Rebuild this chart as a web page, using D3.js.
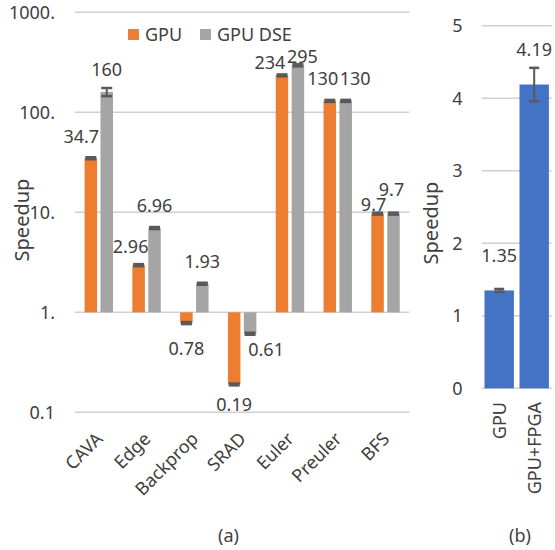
<!DOCTYPE html>
<html>
<head>
<meta charset="utf-8">
<script src="https://cdn.jsdelivr.net/npm/d3@7"></script>
<style>
  body { margin: 0; background: #fff; }
  text { font-family: "Noto Sans", "Open Sans", sans-serif; fill: #404040; }
</style>
</head>
<body>
<svg id="chart" width="555" height="550"></svg>
<script>
"use strict";

// Panel (a): speedup per benchmark (log scale)
const categories = ["CAVA", "Edge", "Backprop", "SRAD", "Euler", "Preuler", "BFS"];
const seriesNames = ["GPU", "GPU DSE"];
const gpuValues = [34.7, 2.96, 0.78, 0.19, 234, 130, 9.7];
const gpuDseValues = [160, 6.96, 1.93, 0.61, 295, 130, 9.7];
const gpuErrors = [0.8, 0.07, 0.018, 0.004, 5, 3, 0.22];
const gpuDseErrors = [15, 0.16, 0.045, 0.014, 7, 3, 0.22];
const yTicksA = [0.1, 1, 10, 100, 1000];
const yTickLabelsA = ["0.1", "1.", "10.", "100.", "1000."];

// Panel (b): overall speedup (linear scale)
const categoriesB = ["GPU", "GPU+FPGA"];
const speedupB = [1.35, 4.19];
const errorsB = [0.02, 0.23];
const yTicksB = [0, 1, 2, 3, 4, 5];

const colors = {"GPU": "#ed7d31", "GPU DSE": "#a5a5a5"};
const blue = "#4472c4";
const gridColor = "#d0d0d0";
const capColor = "#595959";

// hand nudges for value labels, the original had them moved to avoid overlap
const labelNudge = {
  "CAVA|GPU": [-9.5, 0], "Edge|GPU": [-8, 4], "Backprop|GPU": [0, 4],
  "SRAD|GPU": [0, -2], "SRAD|GPU DSE": [16, -6],
  "Euler|GPU": [-12, 9], "Euler|GPU DSE": [4.5, 13],
  "Preuler|GPU": [-7, 0], "Preuler|GPU DSE": [9.5, 0],
  "BFS|GPU": [-4, 13], "BFS|GPU DSE": [-2, -2]
};

const svg = d3.select("#chart");

// ---------- panel (a) ----------
{
  const x0 = d3.scaleBand().domain(categories).range([75, 409.3]).paddingInner(0.405).paddingOuter(0.2);
  const x1 = d3.scaleBand().domain(seriesNames).range([0, x0.bandwidth()]).paddingInner(0.214);
  const y = d3.scaleLog().domain([0.1, 1000]).range([412.3, 12.3]);

  const g = svg.append("g");

  g.append("g").selectAll("line").data(yTicksA).join("line")
    .attr("x1", 75).attr("x2", 409.3)
    .attr("y1", d => y(d)).attr("y2", d => y(d))
    .attr("stroke", gridColor).attr("stroke-width", 1.6);

  g.append("g").selectAll("text").data(yTicksA).join("text")
    .attr("x", 55).attr("y", d => y(d)).attr("dy", "0.35em")
    .attr("text-anchor", "end").attr("font-size", 18)
    .text((d, i) => yTickLabelsA[i]);

  const rows = [];
  categories.forEach((c, i) => {
    rows.push({cat: c, s: "GPU", v: gpuValues[i], e: gpuErrors[i]});
    rows.push({cat: c, s: "GPU DSE", v: gpuDseValues[i], e: gpuDseErrors[i]});
  });

  const bx = d => x0(d.cat) + x1(d.s);
  const bw = x1.bandwidth();

  g.append("g").selectAll("rect").data(rows).join("rect")
    .attr("x", bx).attr("width", bw)
    .attr("y", d => Math.min(y(d.v), y(1)))
    .attr("height", d => Math.abs(y(d.v) - y(1)))
    .attr("fill", d => colors[d.s]);

  // error bars
  const eb = g.append("g").attr("stroke", capColor).attr("stroke-width", 2.5);
  rows.forEach(d => {
    const cx = bx(d) + bw / 2;
    const hi = y(d.v + d.e), lo = y(d.v - d.e);
    eb.append("line").attr("x1", cx).attr("x2", cx).attr("y1", hi).attr("y2", lo).attr("stroke-width", 2);
    [hi, lo].forEach(yy => eb.append("line")
      .attr("x1", cx - 5.5).attr("x2", cx + 5.5).attr("y1", yy).attr("y2", yy));
  });

  // value labels
  g.append("g").selectAll("text").data(rows).join("text")
    .attr("x", d => bx(d) + bw / 2 + (labelNudge[d.cat + "|" + d.s] || [0, 0])[0])
    .attr("y", d => (d.v >= 1 ? y(d.v) - 22 : y(d.v) + 22) + (labelNudge[d.cat + "|" + d.s] || [0, 0])[1])
    .attr("dy", "0.35em").attr("text-anchor", "middle").attr("font-size", 18)
    .text(d => d.v);

  // category labels
  g.append("g").selectAll("text").data(categories).join("text")
    .attr("transform", d => `translate(${x0(d) + x0.bandwidth() / 2 + 5},440) rotate(-45)`)
    .attr("text-anchor", "end").attr("font-size", 18)
    .text(d => d);

  // legend
  const leg = g.append("g");
  [[128, "GPU"], [200, "GPU DSE"]].forEach(([lx, s]) => {
    leg.append("rect").attr("x", lx).attr("y", 29).attr("width", 11).attr("height", 11).attr("fill", colors[s]);
    leg.append("text").attr("x", lx + 17).attr("y", 35).attr("dy", "0.35em").attr("font-size", 18).text(s);
  });

  g.append("text").attr("transform", "translate(22,220) rotate(-90)")
    .attr("dy", "0.35em").attr("text-anchor", "middle").attr("font-size", 20).text("Speedup");

  g.append("text").attr("x", 228.5).attr("y", 536).attr("dy", "0.35em")
    .attr("text-anchor", "middle").attr("font-size", 18).text("(a)");
}

// ---------- panel (b) ----------
{
  const x = d3.scaleBand().domain(categoriesB).range([481.7, 551.7]).paddingInner(0.16).paddingOuter(0.08);
  const y = d3.scaleLinear().domain([0, 5]).range([388.3, 25.8]);
  const g = svg.append("g");

  g.append("g").selectAll("line").data(yTicksB).join("line")
    .attr("x1", 481.7).attr("x2", 551.7)
    .attr("y1", d => y(d)).attr("y2", d => y(d))
    .attr("stroke", gridColor).attr("stroke-width", 1.6);

  g.append("g").selectAll("text").data(yTicksB).join("text")
    .attr("x", 462.5).attr("y", d => y(d)).attr("dy", "0.35em")
    .attr("text-anchor", "end").attr("font-size", 18)
    .text(d => d);

  g.append("g").selectAll("rect").data(speedupB).join("rect")
    .attr("x", (d, i) => x(categoriesB[i])).attr("width", x.bandwidth())
    .attr("y", d => y(d)).attr("height", d => y(0) - y(d))
    .attr("fill", blue);

  const eb = g.append("g").attr("stroke", capColor).attr("stroke-width", 2.5);
  speedupB.forEach((v, i) => {
    const cx = x(categoriesB[i]) + x.bandwidth() / 2;
    const hi = y(v + errorsB[i]), lo = y(v - errorsB[i]);
    eb.append("line").attr("x1", cx).attr("x2", cx).attr("y1", hi).attr("y2", lo).attr("stroke-width", 2);
    [hi, lo].forEach(yy => eb.append("line")
      .attr("x1", cx - 5).attr("x2", cx + 5).attr("y1", yy).attr("y2", yy));
  });

  g.append("g").selectAll("text.val").data(speedupB).join("text")
    .attr("x", (d, i) => x(categoriesB[i]) + x.bandwidth() / 2)
    .attr("y", d => y(d) - 35).attr("dy", "0.35em")
    .attr("text-anchor", "middle").attr("font-size", 18)
    .text(d => d);

  g.append("g").selectAll("text.cat").data(categoriesB).join("text")
    .attr("transform", d => `translate(${x(d) + x.bandwidth() / 2},402) rotate(-90)`)
    .attr("dy", "0.35em").attr("text-anchor", "end").attr("font-size", 18)
    .text(d => d);

  g.append("text").attr("transform", "translate(431,223) rotate(-90)")
    .attr("dy", "0.35em").attr("text-anchor", "middle").attr("font-size", 20).text("Speedup");

  g.append("text").attr("x", 520).attr("y", 536).attr("dy", "0.35em")
    .attr("text-anchor", "middle").attr("font-size", 18).text("(b)");
}
</script>
</body>
</html>
